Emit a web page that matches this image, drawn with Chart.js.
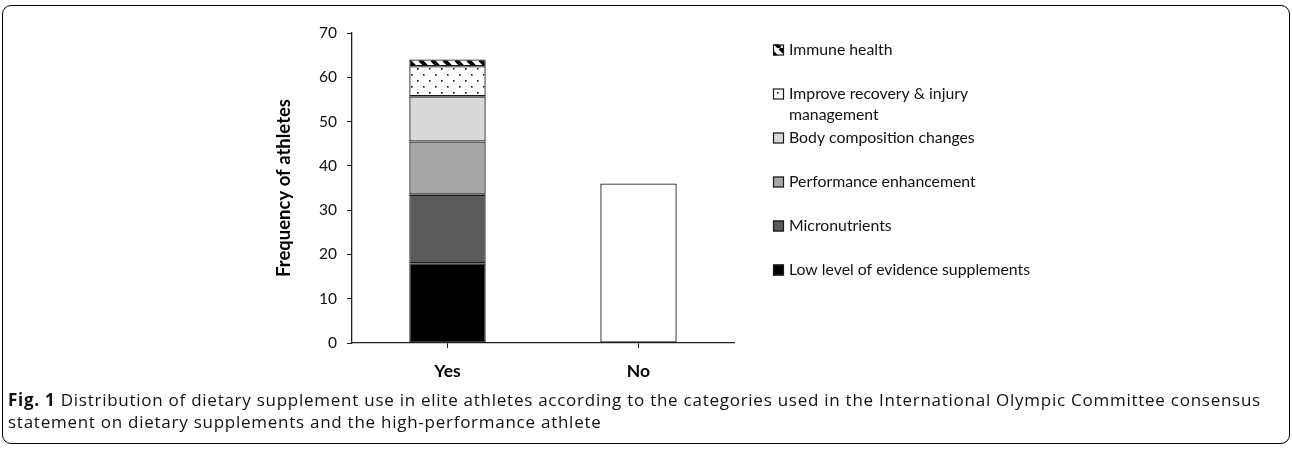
<!DOCTYPE html>
<html>
<head>
<meta charset="utf-8">
<script src="https://cdn.jsdelivr.net/npm/chart.js@4/dist/chart.umd.min.js"></script>
<style>
  body { margin: 0; background: #fff; width: 1292px; height: 451px; overflow: hidden; position: relative; }
  #frame { position: absolute; left: 2px; top: 5px; width: 1286px; height: 437px; border: 1px solid #000; border-radius: 9px; }
  #wrap { position: absolute; left: 0; top: 0; width: 1292px; height: 390px; }
  #caption { position: absolute; left: 8px; top: 389px; width: 1276px; font-family: "Open Sans", sans-serif; font-size: 17px; line-height: 22px; color: #111; letter-spacing: 0.74px; }
  #caption b { font-weight: 700; }
</style>
</head>
<body>
<div id="frame"></div>
<div id="wrap"><canvas id="myChart" width="1292" height="390"></canvas></div>
<div id="caption"><b>Fig. 1</b> Distribution of dietary supplement use in elite athletes according to the categories used in the International Olympic Committee consensus statement on dietary supplements and the high-performance athlete</div>
<script>
// data
const categories = ["Yes", "No"];
const seriesNames = ["Low level of evidence supplements", "Micronutrients", "Performance enhancement",
  "Body composition changes", "Improve recovery & injury management", "Immune health"];
const lowEvidence = [18, null];
const micronutrients = [15.5, null];
const performance = [12, null];
const bodyComposition = [10.2, null];
const recovery = [6.8, null];
const immune = [1.5, null];
const noSupplements = [null, 36];
const yTicks = [0, 10, 20, 30, 40, 50, 60, 70];

// fill patterns
function hatchPattern() {
  const c = document.createElement("canvas");
  c.width = 12; c.height = 12;
  const g = c.getContext("2d");
  g.fillStyle = "#fff"; g.fillRect(0, 0, 12, 12);
  g.strokeStyle = "#000"; g.lineWidth = 4;
  [-12, 0, 12].forEach(k => { g.beginPath(); g.moveTo(k, 0); g.lineTo(k + 12, 12); g.stroke(); });
  return g.createPattern(c, "repeat");
}
function dotPattern() {
  const c = document.createElement("canvas");
  c.width = 12; c.height = 12;
  const g = c.getContext("2d");
  g.fillStyle = "#fff"; g.fillRect(0, 0, 12, 12);
  g.fillStyle = "#111";
  g.fillRect(3, 2, 1.6, 1.6);
  g.fillRect(9, 8, 1.6, 1.6);
  return g.createPattern(c, "repeat");
}

const fills = ["#000000", "#5a5a5a", "#a6a6a6", "#d9d9d9", dotPattern(), hatchPattern()];
const values = [lowEvidence, micronutrients, performance, bodyComposition, recovery, immune];

const datasets = values.map((v, i) => ({
  label: seriesNames[i],
  data: v,
  backgroundColor: fills[i],
  borderColor: "#1a1a1a",
  borderWidth: 1.3,
  borderSkipped: false,
  inLegend: true
}));
datasets.push({ label: "No", data: noSupplements, backgroundColor: "#fff", borderColor: "#1a1a1a",
  borderWidth: 1.3, borderSkipped: false, inLegend: false });

// legend drawn on the right, top entry first, text wrapped
const sideLegend = {
  id: "sideLegend",
  afterDraw(chart) {
    const ctx = chart.ctx;
    const x = 773, top = 50, pitch = 44, maxW = 250;
    ctx.save();
    ctx.font = "15.8px Lato";
    ctx.textBaseline = "middle";
    const items = chart.data.datasets.filter(d => d.inLegend).slice().reverse();
    items.forEach((d, i) => {
      const y = top + i * pitch;
      ctx.fillStyle = d.backgroundColor;
      ctx.fillRect(x, y - 5.5, 11, 11);
      ctx.strokeStyle = "#1a1a1a"; ctx.lineWidth = 1.2;
      ctx.strokeRect(x + 0.5, y - 5, 10, 10);
      // wrap words
      const words = d.label.split(" ");
      const lines = [];
      let line = "";
      words.forEach(w => {
        const t = line ? line + " " + w : w;
        if (ctx.measureText(t).width > maxW && line) { lines.push(line); line = w; } else line = t;
      });
      lines.push(line);
      ctx.fillStyle = "#111";
      lines.forEach((l, j) => ctx.fillText(l, x + 16, y + j * 21));
    });
    ctx.restore();
  }
};

new Chart(document.getElementById("myChart"), {
  type: "bar",
  data: { labels: categories, datasets: datasets },
  plugins: [sideLegend],
  options: {
    responsive: false,
    animation: false,
    layout: { padding: { left: 270, right: 558, top: 33, bottom: 5 } },
    plugins: { legend: { display: false }, tooltip: { enabled: false } },
    datasets: { bar: { categoryPercentage: 1, barPercentage: 0.4 } },
    scales: {
      x: {
        stacked: true,
        afterFit: s => { s.height = 42; },
        border: { color: "#222", width: 1.3 },
        grid: { offset: false, drawOnChartArea: false, drawTicks: true, tickLength: 5, color: "#222" },
        ticks: { color: "#000", padding: 13, font: { family: "Lato", size: 17.5, weight: "bold" } }
      },
      y: {
        stacked: true,
        min: yTicks[0],
        max: yTicks[yTicks.length - 1],
        afterFit: s => { s.width = 82; },
        afterBuildTicks: s => { s.ticks = yTicks.map(v => ({ value: v })); },
        border: { color: "#222", width: 1.3 },
        grid: { drawOnChartArea: false, drawTicks: true, tickLength: 5, color: "#222" },
        ticks: { color: "#111", padding: 10, font: { family: "Lato", size: 15.5 } },
        title: { display: true, text: "Frequency of athletes", color: "#000", padding: { top: 3, bottom: 0 },
          font: { family: "Lato", size: 18.5, weight: "bold" } }
      }
    }
  }
});
</script>
</body>
</html>
